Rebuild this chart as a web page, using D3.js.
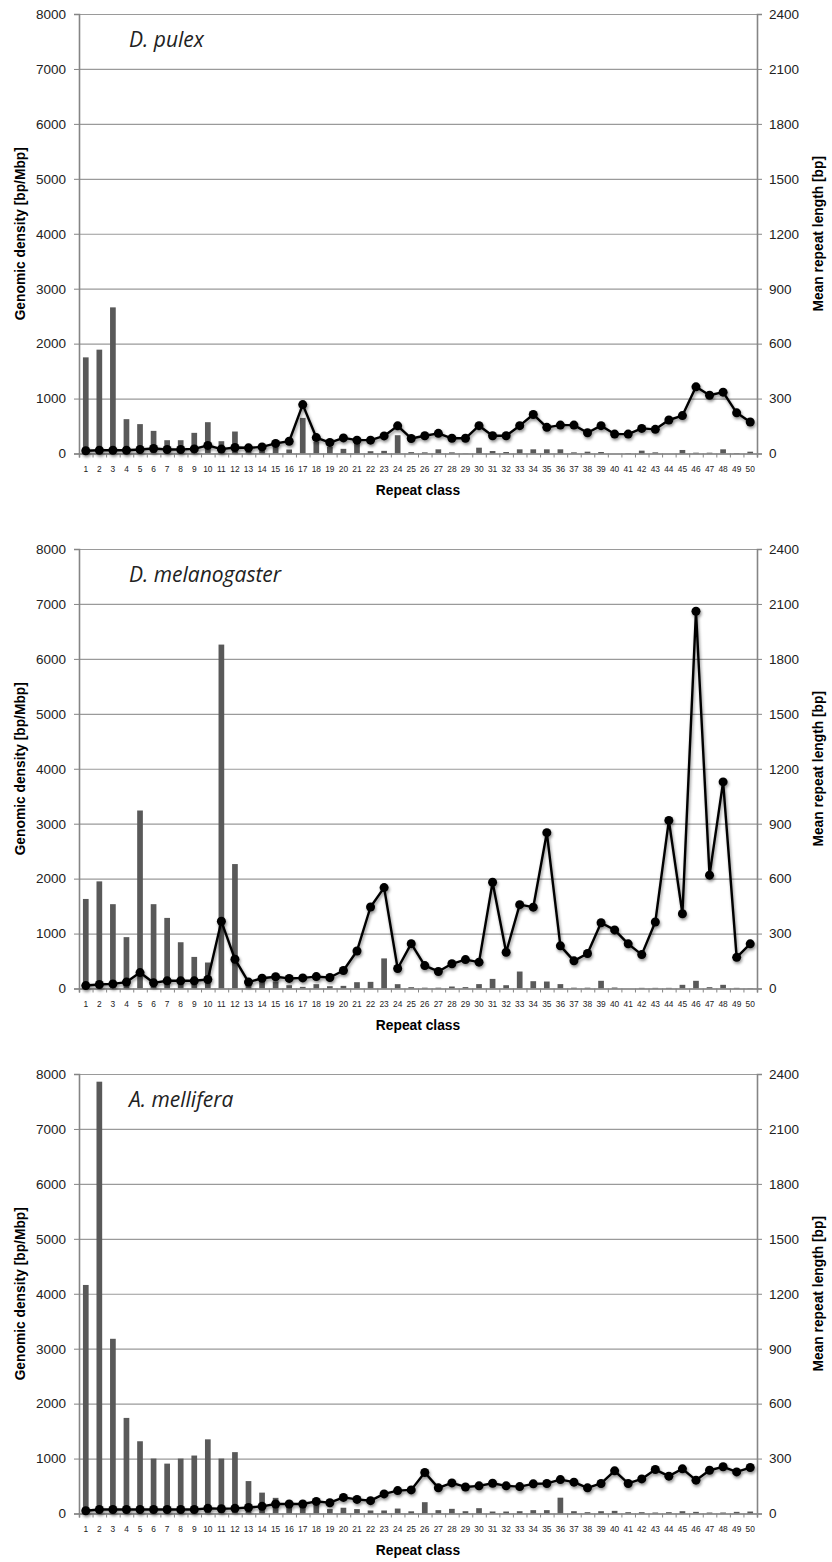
<!DOCTYPE html>
<html>
<head>
<meta charset="utf-8">
<script src="https://cdn.jsdelivr.net/npm/d3@7"></script>
<style>
	body { margin: 0; background: #fff; }
	svg { display: block; font-family: "Liberation Sans", Arial, sans-serif; }
	.tick text { fill: #222; }
</style>
</head>
<body>
<svg id="chart"></svg>
<script>
// DATA
var classes = d3.range(1, 51);
var densityTicks = d3.range(0, 8001, 1000);
var lengthTicks = d3.range(0, 2401, 300);
var species = ["D. pulex", "D. melanogaster", "A. mellifera"];

var pulexDensity = [1750, 1890, 2660, 625, 535, 412, 242, 242, 376, 570, 224, 400, 90, 100, 150, 73, 648, 212, 121, 85, 200, 42, 48, 333, 25,
	21, 76, 21, 5, 106, 45, 27, 76, 76, 76, 76, 21, 33, 27, 0, 9, 52, 21, 0, 64, 15, 15, 76, 9, 33];
var pulexLength = [15, 18, 18, 18, 22, 27, 22, 22, 25, 44, 24, 33, 31, 36, 55, 67, 267, 87, 60, 85, 73, 73, 96, 151, 82,
	97, 110, 83, 83, 152, 97, 97, 152, 213, 143, 155, 155, 113, 152, 106, 106, 137, 132, 183, 207, 364, 318, 335, 222, 172];

var melanoDensity = [1630, 1950, 1535, 935, 3240, 1535, 1285, 842, 575, 473, 6260, 2265, 80, 150, 130, 60, 30, 79, 42, 48, 115, 121, 548, 79, 24,
	15, 15, 36, 25, 80, 175, 60, 309, 133, 127, 80, 15, 15, 140, 18, 0, 12, 12, 12, 67, 140, 24, 67, 12, 6];
var melanoLength = [16, 22, 25, 35, 87, 31, 42, 42, 42, 49, 367, 160, 35, 56, 64, 55, 58, 65, 60, 98, 205, 445, 551, 109, 245,
	125, 93, 135, 158, 144, 580, 198, 458, 444, 851, 233, 151, 191, 359, 320, 244, 185, 363, 918, 408, 2060, 619, 1128, 170, 244];

var melliferaDensity = [4160, 7860, 3180, 1740, 1315, 1000, 908, 1000, 1055, 1350, 1000, 1117, 590, 380, 285, 180, 150, 170, 80, 105, 80, 55, 55, 90, 40,
	206, 61, 85, 42, 97, 36, 36, 42, 61, 61, 288, 42, 24, 42, 48, 24, 24, 18, 24, 42, 30, 18, 18, 30, 36];
var melliferaLength = [15, 22, 22, 22, 22, 22, 22, 22, 22, 28, 26, 28, 33, 39, 52, 52, 52, 66, 59, 88, 77, 70, 107, 125, 129,
	224, 140, 167, 145, 151, 165, 151, 147, 162, 164, 185, 171, 140, 164, 233, 164, 189, 240, 204, 244, 182, 236, 255, 227, 251];

var densities = [pulexDensity, melanoDensity, melliferaDensity];
var lengths = [pulexLength, melanoLength, melliferaLength];

// LAYOUT
var width = 832, height = 1562;
var left = 79, right = 757;
var panelTops = [14, 549, 1074];
var plotH = 439.5;

var svg = d3.select("#chart")
.attr("width", width)
.attr("height", height);

// soft shadow under the line markers
var filter = svg.append("defs")
.append("filter")
.attr("id", "shadow")
.attr("x", "-50%").attr("y", "-50%")
.attr("width", "200%").attr("height", "200%");
filter.append("feDropShadow")
.attr("dx", 1)
.attr("dy", 2)
.attr("stdDeviation", 1.4)
.attr("flood-color", "#000")
.attr("flood-opacity", 0.45);

// SCALES
var x = d3.scaleBand().domain(classes).range([left, right]).paddingInner(0.58).paddingOuter(0.29);
var xEdges = d3.scaleLinear().domain([0, 50]).range([left, right]);
var fmt = d3.format("d");

species.forEach(function(name, p) {
	var top = panelTops[p];
	var y = d3.scaleLinear().domain([0, 8000]).range([top + plotH, top]);
	var y2 = d3.scaleLinear().domain([0, 2400]).range([top + plotH, top]);
	var g = svg.append("g").attr("class", "panel");

	// gridlines
	g.append("g")
	.attr("transform", "translate(" + left + ",0)")
	.call(d3.axisLeft(y).tickValues(densityTicks).tickSize(-(right - left)).tickFormat(""))
	.call(function(s) {
		s.select(".domain").remove();
		s.selectAll("line").attr("stroke", "#9a9a9a").attr("stroke-width", 1.2);
	});

	// bars
	g.append("g")
	.selectAll("rect")
	.data(densities[p])
	.enter()
	.append("rect")
	.attr("x", function(d, i) { return x(classes[i]); })
	.attr("width", x.bandwidth())
	.attr("y", function(d) { return y(d); })
	.attr("height", function(d) { return y(0) - y(d); })
	.attr("fill", "#595959");

	// left axis
	g.append("g")
	.attr("transform", "translate(" + left + ",0)")
	.call(d3.axisLeft(y).tickValues(densityTicks).tickSize(5).tickPadding(8).tickFormat(fmt))
	.call(function(s) {
		s.select(".domain").attr("stroke", "#858585").attr("stroke-width", 1.6);
		s.selectAll("line").attr("stroke", "#858585");
		s.selectAll("text").attr("font-size", 13.5);
	});

	// right axis
	g.append("g")
	.attr("transform", "translate(" + right + ",0)")
	.call(d3.axisRight(y2).tickValues(lengthTicks).tickSize(5).tickPadding(7).tickFormat(fmt))
	.call(function(s) {
		s.select(".domain").attr("stroke", "#858585").attr("stroke-width", 1.6);
		s.selectAll("line").attr("stroke", "#858585");
		s.selectAll("text").attr("font-size", 13.5);
	});

	// x axis: tick marks at the class boundaries
	g.append("g")
	.attr("transform", "translate(0," + (top + plotH) + ")")
	.call(d3.axisBottom(xEdges).ticks(50).tickSize(4).tickFormat(""))
	.call(function(s) {
		s.select(".domain").attr("stroke", "#858585").attr("stroke-width", 1.6);
		s.selectAll("line").attr("stroke", "#858585");
	});

	// x axis labels
	g.append("g")
	.attr("transform", "translate(0," + (top + plotH) + ")")
	.call(d3.axisBottom(x).tickSize(0).tickPadding(13))
	.call(function(s) {
		s.select(".domain").remove();
		s.selectAll("text").attr("font-size", 8.4);
	});

	// line + markers
	var line = d3.line()
	.x(function(d, i) { return x(classes[i]) + x.bandwidth() / 2; })
	.y(function(d) { return y2(d); });

	var lg = g.append("g").attr("filter", "url(#shadow)");
	lg.append("path")
	.datum(lengths[p])
	.attr("d", line)
	.attr("fill", "none")
	.attr("stroke", "#000")
	.attr("stroke-width", 2.4)
	.attr("stroke-linejoin", "round");

	lg.selectAll("circle")
	.data(lengths[p])
	.enter()
	.append("circle")
	.attr("cx", function(d, i) { return x(classes[i]) + x.bandwidth() / 2; })
	.attr("cy", function(d) { return y2(d); })
	.attr("r", 4.5)
	.attr("fill", "#000");

	// titles
	g.append("text")
	.attr("transform", "translate(20," + (top + plotH / 2) + ") rotate(-90)")
	.attr("text-anchor", "middle")
	.attr("dy", "0.35em")
	.attr("font-size", 13.8)
	.attr("font-weight", "bold")
	.text("Genomic density [bp/Mbp]");

	g.append("text")
	.attr("transform", "translate(818," + (top + plotH / 2) + ") rotate(-90)")
	.attr("text-anchor", "middle")
	.attr("dy", "0.35em")
	.attr("font-size", 13.8)
	.attr("font-weight", "bold")
	.text("Mean repeat length [bp]");

	g.append("text")
	.attr("x", (left + right) / 2)
	.attr("y", top + plotH + 37)
	.attr("text-anchor", "middle")
	.attr("dy", "0.35em")
	.attr("font-size", 13.8)
	.attr("font-weight", "bold")
	.text("Repeat class");

	g.append("text")
	.attr("x", 129)
	.attr("y", top + 33)
	.attr("font-family", "'Open Sans', sans-serif")
	.attr("font-style", "italic")
	.attr("font-size", 21)
	.attr("fill", "#222")
	.text(name);
});
</script>
</body>
</html>
